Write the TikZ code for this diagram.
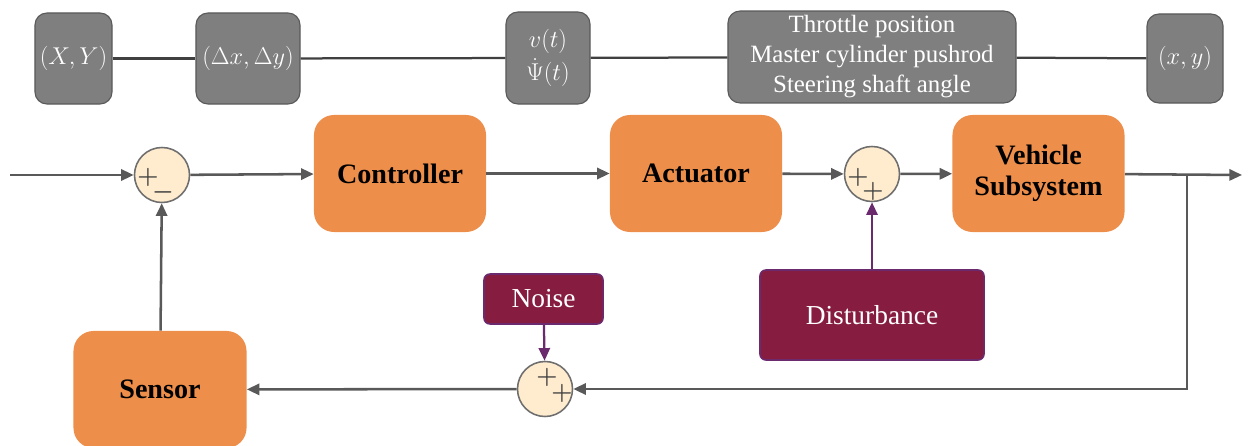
\documentclass[tikz,border=0pt]{standalone}
\usepackage{amsmath}
\usepackage{fontspec}
\setmainfont{Liberation Serif}
\usepackage{tikz}
\usetikzlibrary{positioning}
\usetikzlibrary{calc,arrows.meta}
\definecolor{boxorange}{HTML}{EE8E4B}
\definecolor{sumfill}{HTML}{FFEBCD}
\definecolor{sumline}{HTML}{6E6E6E}
\definecolor{varfill}{HTML}{7F7F7F}
\definecolor{varline}{HTML}{5A5A5A}
\definecolor{wine}{HTML}{861D41}
\definecolor{plum}{HTML}{6B2A6E}
\definecolor{wire}{HTML}{595959}
\tikzset{
  block/.style={shape=rectangle,fill=boxorange,rounded corners=0.5cm,
    minimum width=4.3cm,minimum height=2.925cm,align=center,
    font=\fontsize{20}{22}\selectfont\bfseries},
  sumpt/.style={shape=circle,fill=sumfill,draw=sumline,line width=1.1pt,
    minimum size=1.375cm,inner sep=0pt},
  sign/.style={inner sep=0pt,text=black!75,font=\fontsize{19}{19}\selectfont\boldmath},
  var/.style={shape=rectangle,fill=varfill,draw=varline,line width=0.8pt,
    rounded corners=0.3cm,minimum height=2.275cm,align=center,text=white,
    font=\fontsize{17.7}{21.3}\selectfont},
  dist/.style={shape=rectangle,fill=wine,draw=plum,line width=1.1pt,
    rounded corners=0.15cm,align=center,text=white,
    font=\fontsize{19.5}{22}\selectfont},
  arr/.style={draw=wire,line width=1.8pt,-{Triangle[length=9pt,width=8pt]}},
  parr/.style={draw=plum,line width=1.6pt,-{Triangle[length=9pt,width=8pt]}},
  tline/.style={draw=black!75,line width=1.6pt}
}

\begin{document}
\begin{tikzpicture}[x=0.025cm,y=-0.025cm]
\useasboundingbox (0,0) rectangle (1248,446);
% signals on top
\path
(73.5,58.5) node [var,minimum width=1.925cm](g1) {$(X,Y)$}
(248,58.5) node [var,minimum width=2.6cm](g2) {$(\Delta x,\Delta y)$}
(548,58) node [var,minimum width=2.1cm,minimum height=2.3cm](g3) {$v(t)$\\[2pt]$\dot{\Psi}(t)$}
(872,57) node [var,minimum width=7.2cm,minimum height=2.25cm](g4) {Throttle position\\Master cylinder pushrod\\Steering shaft angle}
(1185,58.5) node [var,minimum width=1.9cm,minimum height=2.225cm](g5) {$(x,y)$};
\draw [tline](g1) --(g2);
\draw [tline](g2) --(g3);
\draw [tline](g3) --(g4);
\draw [tline](g4) --(g5);

% loop
\path
(162,175) node [sumpt](s1) {}
(400,173.5) node [block](ctrl) {Controller}
(696,173.5) node [block](act) {Actuator}
(872,174) node [sumpt](s2) {}
(1038.5,173.5) node [block](veh) {Vehicle\\Subsystem}
(545,389) node [sumpt](s3) {}
(160,389.5) node [block,minimum width=4.325cm](sens) {Sensor}
(543.5,299) node [dist,minimum width=2.975cm,minimum height=1.25cm](noise) {Noise}
(872,315) node [dist,minimum width=5.6cm,minimum height=2.25cm](dist) {Disturbance};
\coordinate (xin) at (10,175);
\coordinate (yout) at (1242,175);
\coordinate (br) at (1187,175);

\node [sign] at (148,177) {$+$};
\node [sign] at (163,192) {$-$};
\node [sign] at (858,177) {$+$};
\node [sign] at (873,191) {$+$};
\node [sign] at (547,377) {$+$};
\node [sign] at (562,393) {$+$};

\draw [arr](xin) --(s1);
\draw [arr](s1) --(ctrl);
\draw [arr](ctrl) --(act);
\draw [arr](act) --(s2);
\draw [arr](s2) --(veh);
\draw [arr](veh) --(yout);
\draw [arr](br) |-(s3);
\draw [arr](s3) --(sens);
\draw [arr](sens) --(s1);
\draw [parr](noise) --(s3);
\draw [parr](dist) --(s2);

\end{tikzpicture}
\end{document}
